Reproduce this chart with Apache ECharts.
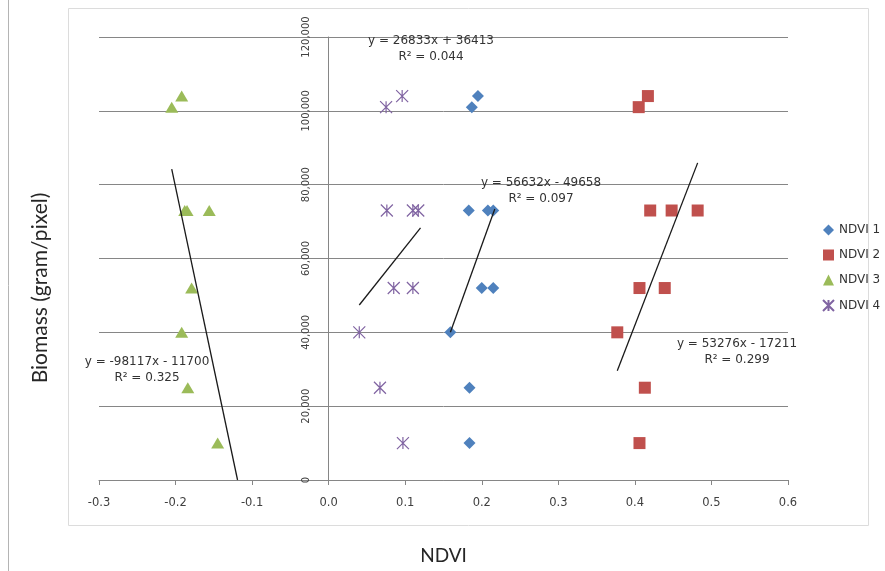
<!DOCTYPE html>
<html>
<head>
<meta charset="utf-8">
<script src="https://cdn.jsdelivr.net/npm/echarts@6/dist/echarts.min.js"></script>
<style>
  html, body { margin: 0; padding: 0; background: #fff; }
  #chart { width: 885px; height: 571px; }
</style>
</head>
<body>
<div id="chart"></div>
<script>
// points: [ndvi, biomass]
const ndvi1 = [[0.195, 104000], [0.187, 101000], [0.183, 73000], [0.208, 73000], [0.215, 73000],
  [0.200, 52000], [0.215, 52000], [0.159, 40000], [0.184, 25000], [0.184, 10000]];
const ndvi2 = [[0.417, 104000], [0.405, 101000], [0.420, 73000], [0.448, 73000], [0.482, 73000],
  [0.406, 52000], [0.439, 52000], [0.377, 40000], [0.413, 25000], [0.406, 10000]];
const ndvi3 = [[-0.192, 104000], [-0.205, 101000], [-0.188, 73000], [-0.185, 73000], [-0.156, 73000],
  [-0.179, 52000], [-0.192, 40000], [-0.184, 25000], [-0.145, 10000]];
const ndvi4 = [[0.096, 104000], [0.075, 101000], [0.076, 73000], [0.110, 73000], [0.117, 73000],
  [0.085, 52000], [0.110, 52000], [0.040, 40000], [0.067, 25000], [0.097, 10000]];

// trend line ends as drawn in the picture
const trend1 = [[0.159, 40000], [0.217, 73400]];
const trend2 = [[0.377, 29600], [0.482, 85900]];
const trend3 = [[-0.205, 84200], [-0.119, 0]];
const trend4 = [[0.040, 47400], [0.120, 68300]];

const seriesNames = ['NDVI 1', 'NDVI 2', 'NDVI 3', 'NDVI 4'];
const equations = ['y = 56632x - 49658', 'y = 53276x - 17211', 'y = -98117x - 11700', 'y = 26833x + 36413'];
const rSquared = ['R² = 0.097', 'R² = 0.299', 'R² = 0.325', 'R² = 0.044'];

const labelFont = 'DejaVu Sans, Verdana, sans-serif';
const starPath = 'path://M0,0L10,10M10,0L0,10M5,0L5,10';

const chart = echarts.init(document.getElementById('chart'));

function trendSeries(data) {
  return {
    type: 'line',
    data: data,
    symbol: 'none',
    silent: true,
    z: 3,
    lineStyle: { color: '#1a1a1a', width: 1.3 }
  };
}

// equation label anchors (pixel), one per trend line
const eqPos = [[541, 183], [737, 344], [147, 362], [431, 41]];

const eqGraphics = [];
eqPos.forEach((p, i) => {
  eqGraphics.push({
    type: 'text', x: p[0], y: p[1], z: 100,
    style: { text: equations[i], font: '12px ' + labelFont, fill: '#333', align: 'center', verticalAlign: 'middle' }
  });
  eqGraphics.push({
    type: 'text', x: p[0], y: p[1] + 16, z: 100,
    style: { text: rSquared[i], font: '12px ' + labelFont, fill: '#333', align: 'center', verticalAlign: 'middle' }
  });
});

const gridLeft = 99;
const gridRight = 97;
const plotWidth = 885 - gridLeft - gridRight;
// distance from the grid's left edge to x = 0 (min -0.3, max 0.6)
const zeroOffset = plotWidth * 0.3 / 0.9;

const option = {
  animation: false,
  backgroundColor: '#fff',
  grid: { left: gridLeft, right: gridRight, top: 37, bottom: 91 },
  legend: {
    data: seriesNames,
    orient: 'vertical',
    left: 822,
    top: 224,
    padding: 0,
    itemWidth: 11,
    itemHeight: 11,
    itemGap: 13,
    textStyle: { fontFamily: labelFont, fontSize: 12, color: '#333' }
  },
  xAxis: {
    type: 'value',
    min: -0.3,
    max: 0.6,
    interval: 0.1,
    name: 'NDVI',
    nameLocation: 'middle',
    nameGap: 66,
    nameTextStyle: { fontFamily: 'Lato', fontSize: 19, color: '#262626' },
    axisLine: { onZero: false, lineStyle: { color: '#868686' } },
    axisTick: { show: true, length: 5, lineStyle: { color: '#868686' } },
    axisLabel: {
      margin: 17,
      fontFamily: labelFont,
      fontSize: 11.5,
      color: '#404040',
      formatter: v => v.toFixed(1)
    },
    splitLine: { show: false }
  },
  yAxis: {
    type: 'value',
    min: 0,
    max: 120000,
    interval: 20000,
    offset: -zeroOffset,
    axisLine: { show: true, onZero: false, lineStyle: { color: '#868686' } },
    axisTick: { show: true, length: 5, lineStyle: { color: '#868686' } },
    axisLabel: {
      rotate: 90,
      margin: 17,
      align: 'center',
      verticalAlign: 'bottom',
      fontFamily: labelFont,
      fontSize: 10,
      color: '#404040',
      formatter: v => v.toLocaleString('en-US')
    },
    splitLine: { show: true, lineStyle: { color: '#868686', width: 1 } }
  },
  graphic: [
    { type: 'line', shape: { x1: 8.5, y1: 0, x2: 8.5, y2: 571 }, style: { stroke: '#b4b4b4', lineWidth: 1 } },
    { type: 'rect', shape: { x: 68.5, y: 8.5, width: 800, height: 517 }, style: { fill: 'none', stroke: '#dcdcdc', lineWidth: 1 } },
    {
      type: 'text', x: 40, y: 288, rotation: Math.PI / 2,
      style: { text: 'Biomass (gram/pixel)', font: '21px Lato', fill: '#262626', align: 'center', verticalAlign: 'middle' }
    }
  ].concat(eqGraphics),
  series: [
    {
      name: 'NDVI 1', type: 'scatter', data: ndvi1, symbol: 'diamond', symbolSize: [12, 12],
      itemStyle: { color: '#4F81BD', opacity: 1 }
    },
    {
      name: 'NDVI 2', type: 'scatter', data: ndvi2, symbol: 'rect', symbolSize: 12,
      itemStyle: { color: '#C0504D', opacity: 1 }
    },
    {
      name: 'NDVI 3', type: 'scatter', data: ndvi3, symbol: 'triangle', symbolSize: [13, 11],
      itemStyle: { color: '#9BBB59', opacity: 1 }
    },
    {
      name: 'NDVI 4', type: 'scatter', data: ndvi4, symbol: starPath, symbolSize: 12,
      itemStyle: { color: 'transparent', borderColor: '#8064A2', borderWidth: 1.2, opacity: 1 }
    },
    trendSeries(trend1),
    trendSeries(trend2),
    trendSeries(trend3),
    trendSeries(trend4)
  ]
};

chart.setOption(option);
</script>
</body>
</html>
